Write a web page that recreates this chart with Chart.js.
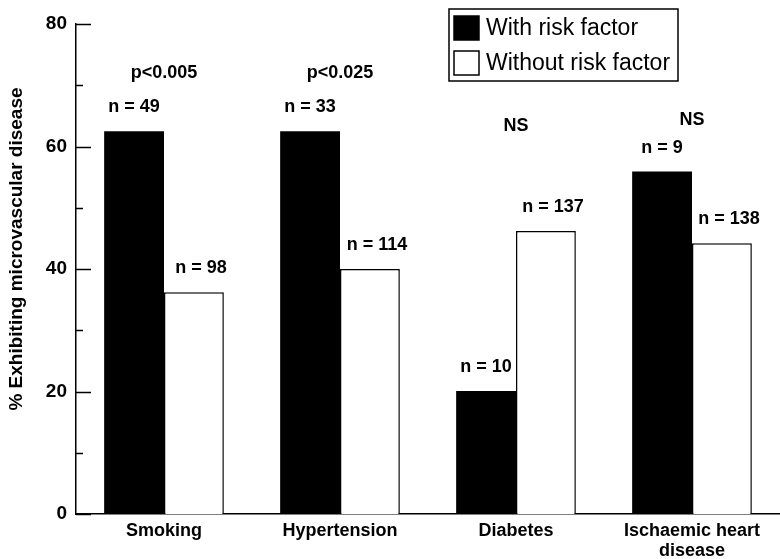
<!DOCTYPE html>
<html>
<head>
<meta charset="utf-8">
<script src="https://cdn.jsdelivr.net/npm/chart.js@4"></script>
<style>
  body { margin: 0; background: #fff; }
  #wrap { position: relative; width: 780px; height: 559px; }
</style>
</head>
<body>
<div id="wrap"><canvas id="riskChart"></canvas></div>
<script>
var categories = ["Smoking", "Hypertension", "Diabetes", ["Ischaemic heart", "disease"]];
var withRisk = [62.5, 62.5, 20.1, 55.9];
var withoutRisk = [36.2, 40.0, 46.2, 44.2];
var withN = ["n = 49", "n = 33", "n = 10", "n = 9"];
var withoutN = ["n = 98", "n = 114", "n = 137", "n = 138"];
var pLabels = ["p<0.005", "p<0.025", "NS", "NS"];
var yTicks = [0, 20, 40, 60, 80];

var fontFamily = "'Liberation Sans', Arial, Helvetica, sans-serif";

// n = .. above each bar, p values above each pair
var labelPlugin = {
    id: 'barLabels',
    afterDatasetsDraw: function (chart, args, opts) {
        var ctx = chart.ctx;
        var nSets = [withN, withoutN];
        ctx.save();
        ctx.fillStyle = '#000';
        ctx.font = 'bold 18px ' + fontFamily;
        ctx.textAlign = 'center';
        ctx.textBaseline = 'middle';
        nSets.forEach(function (labels, d) {
            var meta = chart.getDatasetMeta(d);
            meta.data.forEach(function (bar, i) {
                ctx.fillText(labels[i], bar.x + opts.nOffsetX[d], bar.y - 24);
            });
        });
        var x = chart.scales.x, y = chart.scales.y;
        pLabels.forEach(function (txt, i) {
            ctx.fillText(txt, x.getPixelForValue(i), y.getPixelForValue(opts.pLevel[i]));
        });
        ctx.restore();
    }
};

// tick marks pointing into the plot, long at labelled values
var innerTicks = {
    id: 'innerTicks',
    afterDraw: function (chart) {
        var ctx = chart.ctx, y = chart.scales.y, left = chart.chartArea.left;
        ctx.save();
        ctx.strokeStyle = '#000';
        ctx.lineWidth = 1.5;
        y.ticks.forEach(function (t) {
            var py = Math.round(y.getPixelForValue(t.value)) + 0.5;
            var len = yTicks.indexOf(t.value) >= 0 ? 15 : 7;
            ctx.beginPath();
            ctx.moveTo(left, py);
            ctx.lineTo(left + len, py);
            ctx.stroke();
        });
        // axis title
        ctx.fillStyle = '#000';
        ctx.font = 'bold 19px ' + fontFamily;
        ctx.textAlign = 'center';
        ctx.textBaseline = 'middle';
        ctx.translate(17, (chart.chartArea.top + chart.chartArea.bottom) / 2 - 20);
        ctx.rotate(-Math.PI / 2);
        ctx.fillText('% Exhibiting microvascular disease', 0, 0);
        ctx.restore();
    }
};

// boxed legend in the top right corner
var boxLegend = {
    id: 'boxLegend',
    afterDraw: function (chart) {
        var ctx = chart.ctx;
        ctx.save();
        ctx.lineWidth = 1.5;
        ctx.strokeStyle = '#000';
        ctx.fillStyle = '#fff';
        ctx.fillRect(449, 9, 229, 72);
        ctx.strokeRect(449, 9, 229, 72);
        ctx.font = '23px ' + fontFamily;
        ctx.textBaseline = 'middle';
        chart.data.datasets.forEach(function (ds, i) {
            var top = 16 + i * 35;
            ctx.fillStyle = ds.backgroundColor;
            ctx.fillRect(454, top, 25, 24);
            ctx.strokeStyle = '#000';
            ctx.strokeRect(454, top, 25, 24);
            ctx.fillStyle = '#000';
            ctx.fillText(ds.label, 486, top + 13);
        });
        ctx.restore();
    }
};

var barData = {
    labels: categories,
    datasets: [
        {
            label: "With risk factor",
            backgroundColor: '#000000',
            borderWidth: 0,
            data: withRisk
        },
        {
            label: "Without risk factor",
            backgroundColor: '#ffffff',
            borderColor: '#000000',
            borderWidth: 1.5,
            data: withoutRisk
        }
    ]
};

var barOptions = {
    responsive: true,
    maintainAspectRatio: false,
    animation: false,
    layout: { padding: { top: 24, right: 0, left: 0, bottom: 0 } },
    datasets: { bar: { categoryPercentage: 0.68, barPercentage: 1.0 } },
    plugins: {
        legend: { display: false },
        tooltip: { enabled: false },
        barLabels: { nOffsetX: [0, 7], pLevel: [72, 72, 63.3, 64.3] }
    },
    scales: {
        x: {
            grid: { display: false, drawTicks: false },
            border: { display: true, color: '#000', width: 1.5 },
            ticks: {
                color: '#000',
                padding: 7,
                maxRotation: 0,
                font: { family: fontFamily, size: 18, weight: 'bold', lineHeight: 1.1 }
            },
            afterFit: function (scale) { scale.height = 45; }
        },
        y: {
            min: 0,
            max: 80,
            grid: { display: false, drawTicks: false },
            border: { display: true, color: '#000', width: 1.5 },
            ticks: {
                stepSize: 10,
                color: '#000',
                padding: 9,
                font: { family: fontFamily, size: 19, weight: 'bold' },
                callback: function (v) { return yTicks.indexOf(v) >= 0 ? v : ''; }
            },
            afterFit: function (scale) { scale.width = 76; }
        }
    }
};

var ctx = document.getElementById("riskChart").getContext("2d");
new Chart(ctx, { type: 'bar', data: barData, options: barOptions, plugins: [labelPlugin, innerTicks, boxLegend] });
</script>
</body>
</html>
